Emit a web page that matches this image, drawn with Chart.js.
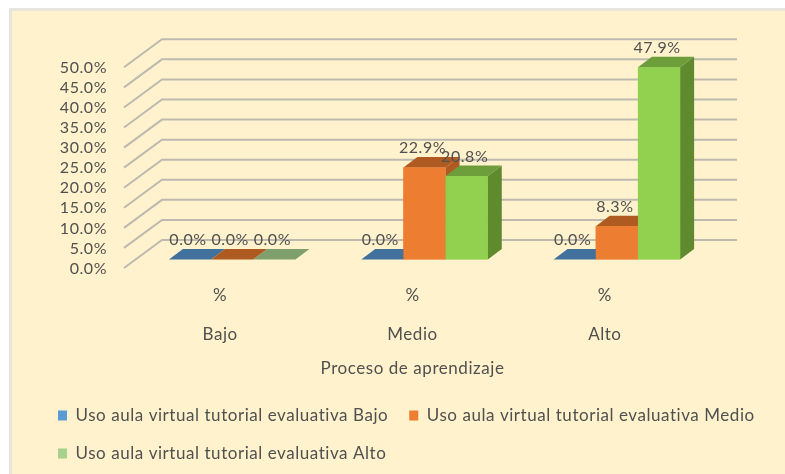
<!DOCTYPE html>
<html>
<head>
<meta charset="utf-8">
<style>
html,body{margin:0;padding:0;background:#fff;overflow:hidden;}
#paper{position:absolute;left:9px;top:8px;right:0;bottom:0;background:#FFF2CC;border-left:3px solid #E7E5DD;border-top:3px solid #E7E5DD;}
#c{position:absolute;left:0;top:0;filter:blur(0.4px);}
</style>
<script src="https://cdn.jsdelivr.net/npm/chart.js@4/dist/chart.umd.min.js"></script>
</head>
<body>
<div id="paper"></div>
<canvas id="c" width="785" height="474"></canvas>
<script>
const categories = [["%","","Bajo"],["%","","Medio"],["%","","Alto"]];
const seriesNames = ["Uso aula virtual tutorial evaluativa Bajo","Uso aula virtual tutorial evaluativa Medio","Uso aula virtual tutorial evaluativa Alto"];
const valuesBajo = [0,0,0];
const valuesMedio = [0,22.9,8.3];
const valuesAlto = [0,20.8,47.9];
const axisTitle = "Proceso de aprendizaje";

const frontColors = ["#5B9BD5","#ED7D31","#92D050"];
const legendColors = ["#5B9BD5","#ED7D31","#A9D18E"];
const sideColors = ["#41719C","#AE5A21","#5F8A2E"];
const topColors = ["#41719C","#AE5A21","#6E9D3B"];
const zeroTopColors = ["#41719C","#AE5A21","#7F9F6D"];
const depthX = 14, depthY = 10.5;
const textColor = "#505050";
const fontFamily = "Lato, 'Open Sans', sans-serif";
const textSize = 17, numberSize = 16;

function face(ctx, pts, fill){
  ctx.beginPath();
  pts.forEach((p,i)=> i ? ctx.lineTo(p[0],p[1]) : ctx.moveTo(p[0],p[1]));
  ctx.closePath();
  ctx.fillStyle = fill;
  ctx.fill();
}

const depthPlugin = {
  id:"depth",
  beforeLayout(chart){ chart.ctx.letterSpacing = "0.55px"; },
  beforeDatasetsDraw(chart){
    const {ctx, chartArea:a, scales:{y}} = chart;
    ctx.save();
    ctx.strokeStyle = "#BDBAB0";
    ctx.lineWidth = 2;
    y.ticks.forEach(t=>{
      const p = y.getPixelForValue(t.value);
      ctx.beginPath();
      ctx.moveTo(a.left-12, p+8.5);
      ctx.lineTo(a.left+26, p-19.5);
      ctx.lineTo(a.right+24, p-19.5);
      ctx.stroke();
    });
    ctx.restore();
  },
  afterDatasetsDraw(chart){
    const ctx = chart.ctx;
    ctx.save();
    chart.data.datasets.forEach((ds,i)=>{
      chart.getDatasetMeta(i).data.forEach((el,j)=>{
        const l = el.x-el.width/2, r = el.x+el.width/2;
        if (ds.data[j] > 0) {
          face(ctx,[[r,el.y],[r+depthX,el.y-depthY],[r+depthX,el.base-depthY],[r,el.base]],sideColors[i]);
          face(ctx,[[l,el.y],[l+depthX,el.y-depthY],[r+depthX,el.y-depthY],[r,el.y]],topColors[i]);
          el.draw(ctx);
        } else {
          face(ctx,[[l,el.y],[l+depthX,el.y-depthY],[r+depthX,el.y-depthY],[r,el.y]],zeroTopColors[i]);
        }
      });
    });
    ctx.restore();
  },
  afterDraw(chart){
    const {ctx, chartArea:a} = chart;
    ctx.save();
    ctx.fillStyle = textColor;
    ctx.textAlign = "center";
    ctx.textBaseline = "middle";
    ctx.font = numberSize+"px "+fontFamily;
    chart.data.datasets.forEach((ds,i)=>{
      chart.getDatasetMeta(i).data.forEach((el,j)=>{
        ctx.fillText(ds.data[j].toFixed(1)+"%", el.x-2, el.y-19.5);
      });
    });
    ctx.font = textSize+"px "+fontFamily;
    ctx.fillText(axisTitle, (a.left+a.right)/2-12, 369);
    ctx.restore();
  }
};

new Chart(document.getElementById("c"),{
  type:"bar",
  data:{
    labels:categories,
    datasets:[
      {label:seriesNames[0],data:valuesBajo,backgroundColor:frontColors[0]},
      {label:seriesNames[1],data:valuesMedio,backgroundColor:frontColors[1]},
      {label:seriesNames[2],data:valuesAlto,backgroundColor:frontColors[2]}
    ]
  },
  plugins:[depthPlugin],
  options:{
    responsive:false,
    animation:false,
    layout:{padding:{left:37,right:0,top:58.8,bottom:2}},
    datasets:{bar:{categoryPercentage:0.658,barPercentage:1}},
    plugins:{
      tooltip:{enabled:false},
      legend:{
        position:"bottom",
        align:"start",
        labels:{
          boxWidth:9,boxHeight:10,padding:21,color:textColor,
          font:{family:fontFamily,size:textSize},
          generateLabels(chart){
            return chart.data.datasets.map((ds,i)=>({
              text:ds.label,fillStyle:legendColors[i],strokeStyle:legendColors[i],lineWidth:0,
              fontColor:textColor,datasetIndex:i,hidden:false
            }));
          }
        }
      }
    },
    scales:{
      x:{
        grid:{display:false,drawTicks:false},
        border:{display:false},
        ticks:{color:textColor,font:{family:fontFamily,size:textSize,lineHeight:1.15},padding:26,labelOffset:-12,maxRotation:0,minRotation:0,autoSkip:false},
        afterFit(s){s.height=126.5;}
      },
      y:{
        min:0,max:50,
        grid:{display:false,drawTicks:false},
        border:{display:false},
        ticks:{color:textColor,font:{family:fontFamily,size:numberSize},stepSize:5,autoSkip:false,padding:29,labelOffset:9,
          callback:v=>v.toFixed(1)+"%"},
        afterFit(s){s.width=99;}
      },
      spacer:{
        position:"right",
        grid:{display:false,drawTicks:false},
        border:{display:false},
        ticks:{display:false},
        afterFit(s){s.width=72;}
      }
    }
  }
});
</script>
</body>
</html>
